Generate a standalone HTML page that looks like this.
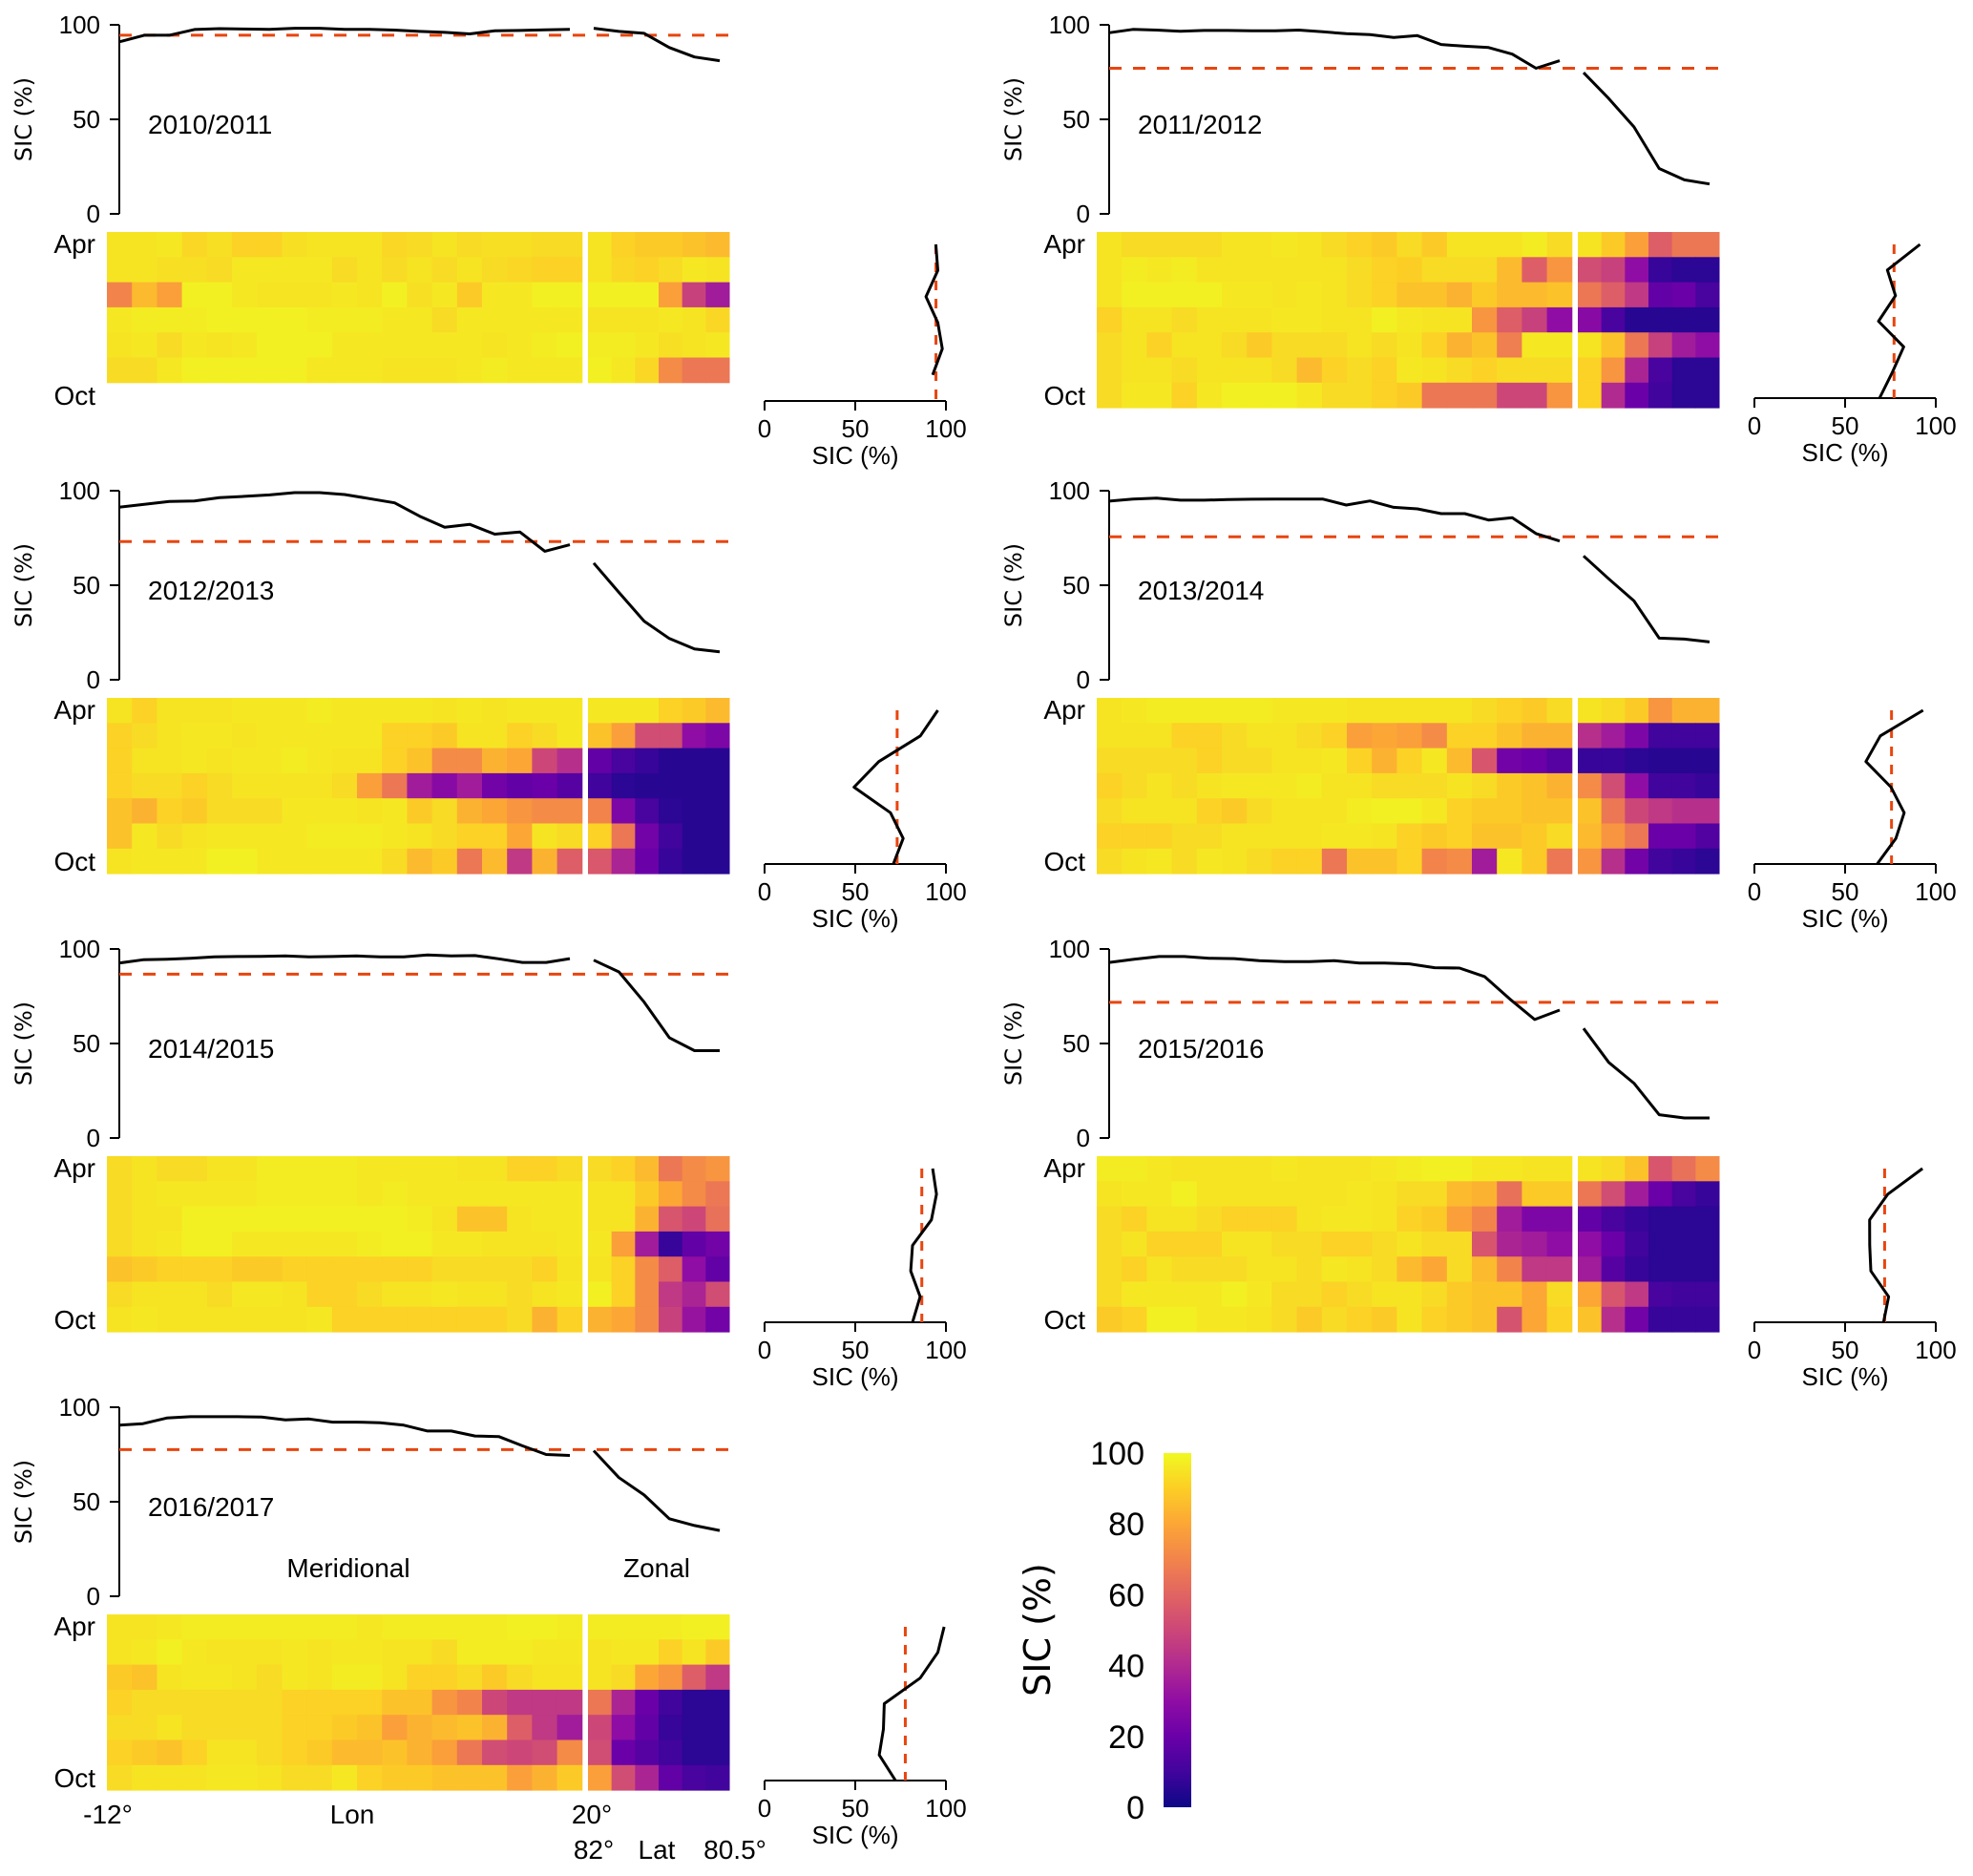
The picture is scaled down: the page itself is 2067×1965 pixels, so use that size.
<!DOCTYPE html>
<html><head><meta charset="utf-8">
<style>
html,body{margin:0;padding:0;background:#fff;}
svg{display:block;}
text{font-family:"Liberation Sans",sans-serif;fill:#000;}
</style></head>
<body>
<svg id="fig" xmlns="http://www.w3.org/2000/svg" width="2067" height="1965" viewBox="0 0 2067 1965">
<defs>
<linearGradient id="plasma" x1="0" y1="1" x2="0" y2="0">
<stop offset="0" stop-color="#0d0887"/><stop offset="0.1" stop-color="#41049d"/><stop offset="0.2" stop-color="#6a00a8"/><stop offset="0.3" stop-color="#8f0da4"/><stop offset="0.4" stop-color="#b12a90"/><stop offset="0.5" stop-color="#cc4778"/><stop offset="0.6" stop-color="#e16462"/><stop offset="0.7" stop-color="#f2844b"/><stop offset="0.8" stop-color="#fca636"/><stop offset="0.9" stop-color="#fcce25"/><stop offset="1" stop-color="#f0f921"/>
</linearGradient>
</defs>
<g id="panels"></g>
<g id="bottom-labels">
<text x="365" y="1652" font-size="28" text-anchor="middle">Meridional</text>
<text x="688" y="1652" font-size="28" text-anchor="middle">Zonal</text>
<text x="113" y="1910" font-size="28" text-anchor="middle">-12°</text>
<text x="369" y="1910" font-size="28" text-anchor="middle">Lon</text>
<text x="620" y="1910" font-size="28" text-anchor="middle">20°</text>
<text x="622" y="1947" font-size="28" text-anchor="middle">82°</text>
<text x="688" y="1947" font-size="28" text-anchor="middle">Lat</text>
<text x="770" y="1947" font-size="28" text-anchor="middle">80.5°</text>
</g>
<g id="colorbar">
<rect x="1219" y="1522" width="29" height="371" fill="url(#plasma)"/>
<text transform="translate(1100,1707) rotate(-90)" font-size="38" text-anchor="middle" style="font-family:'DejaVu Sans',sans-serif">SIC (%)</text>
</g>
</svg>
<script>
const years = ["2010/2011","2011/2012","2012/2013","2013/2014","2014/2015","2015/2016","2016/2017"];
const meanSIC = [94.5,77,73.1,75.6,86.7,71.8,77.6];
const meridLines = [
[91,94.5,94.5,97.5,98,97.8,97.6,98.2,98.2,97.6,97.6,97.2,96.5,96,95.2,96.8,97,97.3,97.6],
[95.8,97.6,97.2,96.6,97,97,96.8,96.8,97.2,96.3,95.3,94.8,93.3,94.3,89.6,88.7,88,84.5,77,81],
[91.3,92.8,94.3,94.6,96.3,97,97.8,99,99,98,95.8,93.6,86.5,80.7,82.2,77,78.2,68,71.4],
[94.5,95.6,96.1,95,95,95.3,95.5,95.6,95.6,95.6,92.4,94.6,91.2,90.4,87.9,87.9,84.5,85.7,77.3,73.4],
[92.6,94.3,94.6,95.1,95.8,96,96.1,96.3,95.8,96,96.3,95.8,95.8,96.8,96.3,96.5,94.8,92.9,92.9,94.9],
[92.9,94.6,96,96,95.1,94.9,93.8,93.3,93.3,93.8,92.6,92.6,92.1,90.1,89.9,85.4,73.6,62.7,67.7],
[90.5,91.3,94.3,95,95,95,94.8,93.3,93.8,92.1,92.1,91.8,90.5,87.4,87.4,84.8,84.5,79.6,75,74.5]
];
const zonalLines = [
[98.2,96.5,95.5,88,83,81],
[74.7,61,46,24,18,15.8],
[61.7,46.2,31,21.8,16.3,14.8],
[65.5,53.4,41.7,22,21.5,20],
[94.1,87.9,71.9,53.1,46.2,46.2],
[58,40,29,12.3,10.6,10.6],
[77,62.8,53.6,41,37.4,34.8]
];
const profiles = [
[94.4,95.5,89,95.5,98,92.7],
[91.3,73.3,77.8,68.4,82.3,76,69],
[95.5,85.9,63,49.3,69.4,76.4,71],
[93,69.4,61.5,75.3,82.6,78,67.7],
[92.7,94.8,92,81.6,80.6,85.8,81.6],
[92.7,73.6,63.5,63.6,64.2,74,71.2],
[99,95.5,85.8,66,65.5,63.2,72.2]
];
const heatMerid = [
[[95,95,96,92,94,91,91,94,95,95,95,92,93,95,93,94,94,93,93],[95,95,94,94,93,96,96,96,96,93,95,93,95,93,95,93,92,91,91],[70,85,78,98,98,96,95,95,95,96,95,98,94,96,89,96,96,98,98],[96,97,97,97,98,98,98,98,97,97,97,96,96,93,96,96,96,96,96],[95,96,93,96,95,96,98,98,98,96,96,96,96,96,96,95,96,97,98],[93,93,96,98,98,98,98,98,96,96,96,95,95,95,96,97,96,96,96]],
[[95,93,93,93,93,95,95,96,95,93,91,89,93,89,95,95,95,97,93],[95,97,96,97,95,95,95,95,95,95,93,91,90,93,93,93,85,58,75],[95,98,98,98,98,96,96,95,96,95,93,91,87,87,83,89,85,85,87],[91,95,95,93,95,95,95,96,96,95,95,98,96,95,95,75,58,48,30],[93,95,91,95,95,93,89,93,93,93,95,93,95,91,83,87,68,96,96],[93,95,95,93,95,95,95,93,85,91,93,91,96,95,93,91,93,93,93],[93,96,96,91,96,98,98,98,96,93,93,91,89,66,66,66,50,50,75]],
[[95,91,95,95,95,96,96,96,97,96,96,96,96,95,96,95,96,96,96],[91,93,95,96,96,95,96,96,96,96,96,91,91,89,95,95,91,93,96],[91,95,95,96,95,96,96,97,96,95,95,91,87,72,72,83,80,50,42],[91,93,93,91,93,95,95,95,95,93,78,66,35,28,35,22,18,20,15],[87,83,91,89,93,93,93,96,96,96,95,96,89,93,83,80,75,72,72],[87,96,93,95,96,96,96,96,97,97,97,96,95,93,91,91,80,95,93],[95,96,96,96,98,98,96,96,96,96,96,93,85,89,66,85,45,83,58]],
[[95,96,97,97,97,97,97,96,96,96,95,95,95,95,95,93,91,89,93],[95,95,95,91,91,93,95,95,93,91,78,80,78,72,91,91,87,83,83],[93,93,93,93,91,93,93,95,95,96,91,83,91,96,85,55,22,20,15],[91,93,95,93,95,96,96,96,97,95,95,93,93,93,95,93,89,87,83],[93,95,95,95,91,89,93,95,95,95,97,98,98,96,91,89,89,87,87],[91,91,91,93,93,95,95,95,95,96,96,95,91,89,91,87,87,89,93],[93,95,96,93,96,95,93,91,91,66,87,87,91,70,72,35,96,89,66]],
[[93,95,93,93,95,95,97,97,97,97,96,96,96,96,95,95,91,91,93],[93,95,96,96,96,96,97,97,97,97,96,97,96,96,96,96,96,96,96],[93,95,95,98,98,98,98,98,98,98,98,98,97,95,87,87,95,96,96],[93,95,96,98,98,96,96,96,96,96,97,98,98,96,96,95,95,95,96],[87,89,91,91,91,89,89,91,91,91,91,91,91,93,93,93,93,91,95],[93,95,95,95,93,96,96,95,91,91,93,95,95,96,95,95,93,95,96],[95,96,95,95,95,95,95,95,96,91,91,91,91,91,91,91,93,83,91]],
[[97,97,96,95,95,95,95,96,95,95,95,96,97,98,98,96,96,95,95],[95,96,96,98,95,95,95,95,95,95,96,95,93,93,85,83,64,89,89],[93,91,95,95,93,91,91,91,95,96,96,95,91,89,78,70,35,25,25],[93,95,91,91,91,95,95,93,93,91,91,93,95,93,93,55,38,35,30],[93,91,95,93,93,93,95,95,93,96,95,93,85,80,93,85,70,45,45],[93,96,96,96,96,98,96,93,93,91,93,95,95,93,89,87,87,80,93],[89,91,98,98,96,96,95,93,89,93,91,89,95,91,89,87,54,80,91]],
[[95,95,96,97,97,97,97,97,97,97,96,97,97,97,97,97,98,98,97],[95,96,98,96,95,95,95,96,95,96,96,95,95,93,97,97,97,96,96],[89,87,95,96,96,95,93,96,95,97,97,95,91,91,93,89,93,95,95],[91,93,93,93,93,93,93,91,91,91,91,87,87,75,70,50,45,45,45],[93,93,95,93,93,93,93,91,91,89,87,78,83,85,87,83,58,45,35],[91,89,87,91,95,95,93,91,89,85,85,87,83,78,66,52,50,52,72],[93,95,95,95,96,96,95,93,93,96,91,89,89,87,87,87,78,83,89]]
];
const heatZonal = [
[[95,91,89,89,87,85],[95,92,91,93,96,95],[98,98,98,78,48,35],[95,95,95,96,95,92],[97,97,96,94,95,96],[98,96,92,72,66,66]],
[[95,89,78,58,66,66],[52,48,30,8,6,6],[66,58,45,18,20,12],[28,12,5,5,5,5],[95,87,66,48,35,30],[91,75,38,12,6,6],[91,40,20,10,6,6]],
[[96,96,96,91,89,85],[87,78,52,52,30,25],[18,12,8,5,5,5],[10,6,5,5,5,5],[70,25,12,6,5,5],[91,66,22,10,5,5],[56,38,20,8,5,5]],
[[95,93,89,75,83,83],[42,35,25,10,10,10],[8,8,6,5,5,5],[72,52,30,10,10,8],[87,66,50,45,42,42],[85,75,66,20,20,14],[75,42,22,10,8,6]],
[[93,91,85,66,72,75],[95,95,89,80,72,66],[95,95,83,55,50,64],[96,78,35,8,18,22],[95,91,72,58,30,18],[98,91,72,45,38,52],[83,80,72,48,32,22]],
[[95,93,87,55,64,72],[66,52,35,20,12,8],[18,12,8,6,6,6],[30,20,10,6,6,6],[35,15,8,6,6,6],[80,55,45,12,10,10],[87,42,22,8,8,8]],
[[97,97,97,97,98,98],[95,96,96,91,95,89],[95,93,80,75,58,45],[66,38,20,10,6,6],[50,30,18,8,6,6],[52,20,15,10,6,6],[78,52,38,18,12,10]]
];
const cbTicks = [0,20,40,60,80,100];
const lineTicks = [0,50,100];

const NS="http://www.w3.org/2000/svg";
const stops=[[13,8,135],[65,4,157],[106,0,168],[143,13,164],[177,42,144],[204,71,120],[225,100,98],[242,132,75],[252,166,54],[252,206,37],[240,249,33]];
function plasma(v){let t=Math.max(0,Math.min(1,v/100))*10;let i=Math.min(9,Math.floor(t));let f=t-i;const a=stops[i],b=stops[i+1];return "rgb("+a.map((c,k)=>Math.round(c+(b[k]-c)*f)).join(",")+")";}
function el(tag,attrs,parent,txt){const e=document.createElementNS(NS,tag);for(const k in attrs)e.setAttribute(k,attrs[k]);if(txt!==undefined)e.textContent=txt;parent.appendChild(e);return e;}

const root=document.getElementById("panels");
const colOff=[0,1037], rowOff=[0,488,968,1448];
const mX0=112, mW=26.2, zX0=616, zW=24.67;
years.forEach((yr,p)=>{
  const ox=colOff[p%2], oy=rowOff[Math.floor(p/2)];
  const g=el("g",{},root);
  
  
  const yL=v=>oy+224-v*1.98;
  const sx=125+ox;
  const ax=el("line",{x1:sx,y1:oy+26,x2:sx,y2:oy+224,stroke:"#000","stroke-width":2},g);
  
  
  lineTicks.forEach(t=>{
    el("line",{x1:sx-10,y1:yL(t),x2:sx,y2:yL(t),stroke:"#000","stroke-width":2},g);
    const tl=el("text",{x:sx-20,y:yL(t)+9,"font-size":26,"text-anchor":"end"},g,String(t));
    
    
  });
  const yt=el("text",{transform:`translate(${ox+33},${oy+125}) rotate(-90)`,"font-size":24,"text-anchor":"middle",style:"font-family:'DejaVu Sans',sans-serif"},g,"SIC (%)");
  
  
  const yl=el("text",{x:ox+155,y:oy+140,"font-size":28},g,yr);
  
  
  const md=el("line",{x1:sx,y1:yL(meanSIC[p]),x2:ox+764,y2:yL(meanSIC[p]),stroke:"#e8450f","stroke-width":3,"stroke-dasharray":"13 12"},g);
  
  
  const m=meridLines[p];
  const mp=el("polyline",{points:m.map((v,i)=>[(sx+i*(472/(m.length-1))).toFixed(1),yL(v).toFixed(1)].join(",")).join(" "),fill:"none",stroke:"#000","stroke-width":3,"stroke-linejoin":"round"},g);
  
  
  const z=zonalLines[p];
  const zp=el("polyline",{points:z.map((v,i)=>[(ox+622+i*(132/(z.length-1))).toFixed(1),yL(v).toFixed(1)].join(",")).join(" "),fill:"none",stroke:"#000","stroke-width":3,"stroke-linejoin":"round"},g);
  
  
  const hy=oy+243, rh=26.3;
  heatMerid[p].forEach((row,r)=>{
    row.forEach((v,c)=>{
      const cell=el("rect",{x:(ox+mX0+c*mW).toFixed(2),y:(hy+r*rh).toFixed(2),width:mW+0.5,height:rh+0.5,fill:plasma(v)},g);
      
      
    });
  });
  heatZonal[p].forEach((row,r)=>{
    row.forEach((v,c)=>{
      const cell=el("rect",{x:(ox+zX0+c*zW).toFixed(2),y:(hy+r*rh).toFixed(2),width:zW+0.5,height:rh+0.5,fill:plasma(v)},g);
      
      
    });
  });
  const apr=el("text",{x:ox+100,y:oy+265,"font-size":28,"text-anchor":"end"},g,"Apr");
  
  
  const oct=el("text",{x:ox+100,y:oy+424,"font-size":28,"text-anchor":"end"},g,"Oct");
  
  
  const axY=oy+(p===0?420:417), pTop=oy+256;
  const px=v=>ox+801+v*1.9;
  const py=i=>pTop+i*(axY-pTop)/6;
  const pa=el("line",{x1:px(0),y1:axY,x2:px(100),y2:axY,stroke:"#000","stroke-width":2},g);
  
  
  lineTicks.forEach(t=>{
    el("line",{x1:px(t),y1:axY,x2:px(t),y2:axY+10,stroke:"#000","stroke-width":2},g);
    const tl=el("text",{x:px(t),y:axY+38,"font-size":26,"text-anchor":"middle"},g,String(t));
    
    
  });
  const pt=el("text",{x:px(50),y:axY+66,"font-size":26,"text-anchor":"middle"},g,"SIC (%)");
  
  
  const pm=el("line",{x1:px(meanSIC[p]),y1:pTop,x2:px(meanSIC[p]),y2:axY,stroke:"#e8450f","stroke-width":3,"stroke-dasharray":"10 9"},g);
  
  
  const pr=profiles[p];
  const pl=el("polyline",{points:pr.map((v,i)=>[px(v).toFixed(1),py(i).toFixed(1)].join(",")).join(" "),fill:"none",stroke:"#000","stroke-width":3,"stroke-linejoin":"round"},g);
  
  
});
const cb=document.getElementById("colorbar");
cbTicks.forEach(t=>{
  const y=1893-t*3.71;
  const tl=el("text",{x:1199,y:y+12,"font-size":34,"text-anchor":"end"},cb,String(t));
  
  
});
</script>
</body></html>
